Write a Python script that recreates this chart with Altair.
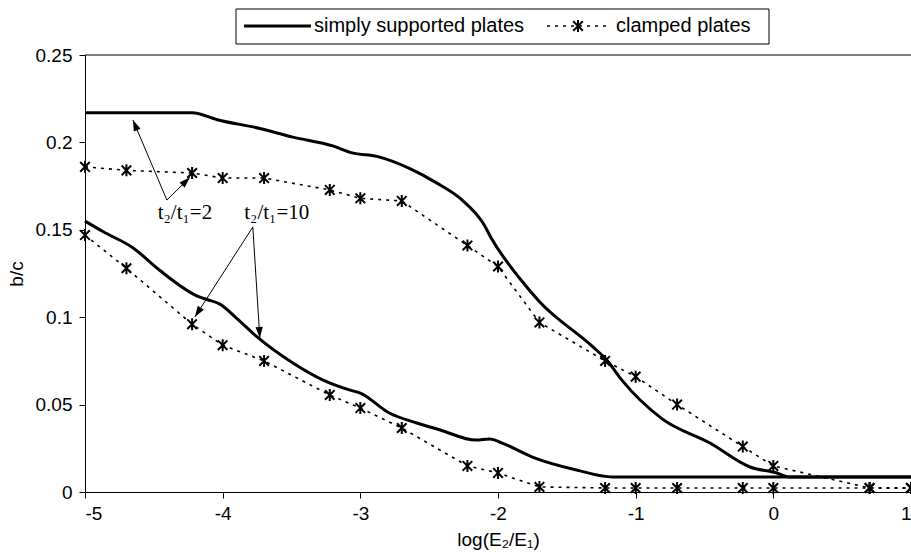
import math
import altair as alt
import pandas as pd

# ---------------- data ----------------
# simply supported plates, t2/t1 = 2
x_ss2 = [-5.0, -4.22, -4.04, -3.73, -3.49, -3.20, -3.06, -2.88, -2.64, -2.45, -2.26,
         -2.11, -2.04, -1.84, -1.70, -1.31, -1.21, -1.10, -0.81, -0.46, -0.17, 0.02, 0.12, 1.0]
y_ss2 = [0.217, 0.217, 0.213, 0.208, 0.203, 0.198, 0.194, 0.192, 0.185, 0.177, 0.167,
         0.154, 0.144, 0.122, 0.109, 0.083, 0.0755, 0.064, 0.042, 0.028, 0.0143, 0.011, 0.0086, 0.0086]

# simply supported plates, t2/t1 = 10
x_ss10 = [-5.0, -4.87, -4.65, -4.46, -4.17, -4.11, -4.02, -3.90, -3.75, -3.49, -3.27, -3.08,
          -3.0, -2.79, -2.59, -2.42, -2.16, -2.06, -1.97, -1.75, -1.43, -1.17, 1.0]
y_ss10 = [0.155, 0.149, 0.1396, 0.127, 0.1116, 0.110, 0.1075, 0.0995, 0.0887, 0.0738, 0.064, 0.0584,
          0.0566, 0.0452, 0.0395, 0.0355, 0.0297, 0.0303, 0.028, 0.020, 0.0126, 0.0086, 0.0086]

# clamped plates (markers)
x_cl = [-5.0, -4.699, -4.222, -4.0, -3.699, -3.222, -3.0, -2.699, -2.222, -2.0,
        -1.699, -1.222, -1.0, -0.699, -0.222, 0.0, 0.699, 1.0]
y_cl2 = [0.186, 0.184, 0.1825, 0.1796, 0.1796, 0.1728, 0.168, 0.1665, 0.141, 0.129,
         0.097, 0.075, 0.066, 0.050, 0.026, 0.0149, 0.0023, 0.0023]
y_cl10 = [0.147, 0.128, 0.096, 0.084, 0.075, 0.0555, 0.048, 0.0366, 0.0149, 0.0109,
          0.0029, 0.0023, 0.0023, 0.0023, 0.0023, 0.0023, 0.0023, 0.0023]

# annotations
ann_text = ["t\u2082/t\u2081=2", "t\u2082/t\u2081=10"]
ann_x = [-4.274, -3.607]
ann_y = [0.1596, 0.1596]
arrow_x1 = [-4.405, -4.405, -3.781, -3.781]
arrow_y1 = [0.167, 0.167, 0.1516, 0.1516]
arrow_x2 = [-4.652, -4.238, -4.202, -3.730]
arrow_y2 = [0.2128, 0.180, 0.1001, 0.0881]

legend_labels = ["simply supported plates", "clamped plates"]
x_ticks = [-5, -4, -3, -2, -1, 0, 1]
y_ticks = [0, 0.05, 0.1, 0.15, 0.2, 0.25]

# ---------------- layout ----------------
W, H = 826, 437
XDOM = [-5, 1]
YDOM = [0, 0.25]
kx = W / (XDOM[1] - XDOM[0])
ky = H / (YDOM[1] - YDOM[0])

solid = pd.concat([
    pd.DataFrame({"x": x_ss2, "y": y_ss2, "s": "ss2"}),
    pd.DataFrame({"x": x_ss10, "y": y_ss10, "s": "ss10"}),
])
clamped = pd.concat([
    pd.DataFrame({"x": x_cl, "y": y_cl2, "s": "cl2"}),
    pd.DataFrame({"x": x_cl, "y": y_cl10, "s": "cl10"}),
])

angles = []
for a, b, c, d in zip(arrow_x1, arrow_y1, arrow_x2, arrow_y2):
    dx = (c - a) * kx
    dy_up = (d - b) * ky
    angles.append(math.degrees(math.atan2(dx, dy_up)) % 360)
arrows = pd.DataFrame({"x1": arrow_x1, "y1": arrow_y1, "x2": arrow_x2, "y2": arrow_y2, "ang": angles})
ann = pd.DataFrame({"x": ann_x, "y": ann_y, "t": ann_text})

xs = alt.Scale(domain=XDOM, nice=False, zero=False)
ys = alt.Scale(domain=YDOM, nice=False)

STAR = "M0,-1L0,1M-0.8,-0.8L0.8,0.8M-0.8,0.8L0.8,-0.8"
HEAD = "M0,0L-0.4,1.2L0.4,1.2Z"

xenc = alt.X("x:Q", scale=xs, axis=alt.Axis(
    title="log(E\u2082/E\u2081)", values=x_ticks, labelExpr="'' + datum.value",
    grid=False, tickSize=6, labelPadding=6, titleY=47, titleBaseline="middle"))
yenc = alt.Y("y:Q", scale=ys, axis=alt.Axis(
    title="b/c", values=y_ticks, format="~g", grid=False, tickSize=6,
    labelPadding=7, titleX=-69, titleY=H / 2, titleBaseline="middle", titleAlign="center"))

solid_layer = alt.Chart(solid).mark_line(
    color="black", strokeWidth=3, interpolate="monotone").encode(
    x=xenc, y=yenc, detail="s:N")
dotted_layer = alt.Chart(clamped).mark_line(
    color="black", strokeWidth=1.6, strokeDash=[3, 5]).encode(
    x="x:Q", y="y:Q", detail="s:N")
points_layer = alt.Chart(clamped).mark_point(
    shape=STAR, size=144, color="black", strokeWidth=2, filled=False, opacity=1).encode(
    x="x:Q", y="y:Q")

arrow_lines = alt.Chart(arrows).mark_rule(color="black", strokeWidth=1).encode(
    x="x1:Q", y="y1:Q", x2="x2:Q", y2="y2:Q")
arrow_heads = alt.Chart(arrows).mark_point(
    shape=HEAD, size=336, filled=True, color="black", opacity=1).encode(
    x=alt.X("x2:Q"), y=alt.Y("y2:Q"), angle=alt.Angle("ang:Q", scale=None))
ann_layer = alt.Chart(ann).mark_text(
    font="Liberation Serif", fontSize=21, color="black", align="center", baseline="middle").encode(
    x="x:Q", y="y:Q", text="t:N")

one = pd.DataFrame({"k": [0]})
top_line = alt.Chart(one).mark_rule(color="black", strokeWidth=1).encode(
    x=alt.value(0), x2=alt.value(W), y=alt.value(0))

LY = -29
leg_box = alt.Chart(one).mark_rect(fill="white", stroke="black", strokeWidth=1).encode(
    x=alt.value(151), x2=alt.value(684), y=alt.value(-46), y2=alt.value(-11))
leg_solid = alt.Chart(one).mark_rule(color="black", strokeWidth=3).encode(
    x=alt.value(159), x2=alt.value(226), y=alt.value(LY))
leg_dash = alt.Chart(one).mark_rule(color="black", strokeWidth=1.6, strokeDash=[3, 5]).encode(
    x=alt.value(462), x2=alt.value(524), y=alt.value(LY))
leg_pt = alt.Chart(one).mark_point(
    shape=STAR, size=144, color="black", strokeWidth=2, filled=False, opacity=1).encode(
    x=alt.value(493), y=alt.value(LY))
leg_t1 = alt.Chart(one).mark_text(
    font="Liberation Sans", fontSize=20, color="black", align="left", baseline="middle").encode(
    x=alt.value(229), y=alt.value(LY), text=alt.value(legend_labels[0]))
leg_t2 = alt.Chart(one).mark_text(
    font="Liberation Sans", fontSize=20, color="black", align="left", baseline="middle").encode(
    x=alt.value(531), y=alt.value(LY), text=alt.value(legend_labels[1]))

chart = alt.layer(
    solid_layer, dotted_layer, points_layer, arrow_lines, arrow_heads, ann_layer,
    top_line, leg_box, leg_solid, leg_dash, leg_pt, leg_t1, leg_t2
).properties(
    width=W, height=H,
    autosize=alt.AutoSizeParams(type="none"),
    padding={"left": 85, "top": 55, "right": 0, "bottom": 64},
    background="white",
).configure_view(strokeWidth=0).configure_axis(
    labelFont="Liberation Sans", labelFontSize=19, labelColor="black",
    titleFont="Liberation Sans", titleFontSize=19, titleFontWeight="normal", titleColor="black",
    domainColor="black", tickColor="black", domainWidth=1, tickWidth=1,
)

chart.save("out.html", embed_options={"renderer": "svg", "actions": False})
